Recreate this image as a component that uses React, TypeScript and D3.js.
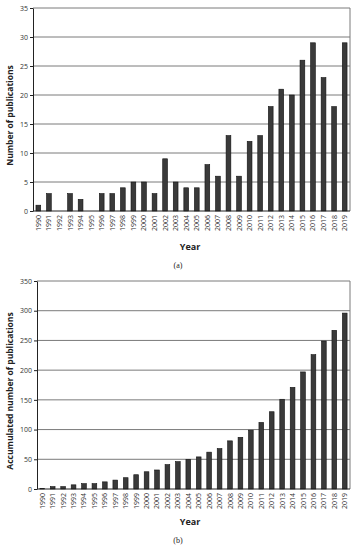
import React, { useEffect, useRef } from "react";
import * as d3 from "d3";

const years = [
  "1990", "1991", "1992", "1993", "1994", "1995", "1996", "1997", "1998", "1999",
  "2000", "2001", "2002", "2003", "2004", "2005", "2006", "2007", "2008", "2009",
  "2010", "2011", "2012", "2013", "2014", "2015", "2016", "2017", "2018", "2019",
];
const publications = [1, 3, 0, 3, 2, 0, 3, 3, 4, 5, 5, 3, 9, 5, 4, 4, 8, 6, 13, 6, 12, 13, 18, 21, 20, 26, 29, 23, 18, 29];
const accumulated = [1, 4, 4, 7, 9, 9, 12, 15, 19, 24, 29, 32, 41, 46, 50, 54, 62, 68, 81, 87, 99, 112, 130, 151, 171, 197, 226, 249, 267, 296];
const ticksA = [0, 5, 10, 15, 20, 25, 30, 35];
const ticksB = [0, 50, 100, 150, 200, 250, 300, 350];

const sans = "'Open Sans', 'Liberation Sans', Arial, sans-serif";

function drawPanel(g, opts) {
  const { left, right, top, bottom, max, ticks, values, yLabel, yLabelX, caption, yearY, capY } = opts;
  const x = d3.scaleBand().domain(years).range([left, right]).paddingInner(0.55).paddingOuter(0.28);
  const y = d3.scaleLinear().domain([0, max]).range([bottom, top]);

  // gridlines
  g.selectAll(".grid")
    .data(ticks.slice(1))
    .enter()
    .append("line")
    .attr("x1", left)
    .attr("x2", right)
    .attr("y1", (d) => y(d))
    .attr("y2", (d) => y(d))
    .attr("stroke", "#7a7a7a")
    .attr("stroke-width", 1);

  // right border
  g.append("line").attr("x1", right).attr("x2", right).attr("y1", top).attr("y2", bottom).attr("stroke", "#7a7a7a");

  g.selectAll(".bar")
    .data(values)
    .enter()
    .append("rect")
    .attr("x", (d, i) => x(years[i]))
    .attr("y", (d) => y(d))
    .attr("width", x.bandwidth())
    .attr("height", (d) => bottom - y(d))
    .attr("fill", "#3a3a3a")
    .attr("stroke", "#111")
    .attr("stroke-width", 0.6);

  const yAxis = g.append("g").attr("transform", `translate(${left},0)`)
    .call(d3.axisLeft(y).tickValues(ticks).tickSize(3).tickSizeOuter(0));
  yAxis.select(".domain").attr("stroke", "#222");
  yAxis.selectAll("line").attr("stroke", "#222");
  yAxis.selectAll("text").attr("font-family", sans).attr("font-size", 7).attr("fill", "#333").attr("x", -5);

  g.append("line").attr("x1", left).attr("x2", right).attr("y1", bottom).attr("y2", bottom).attr("stroke", "#222");

  g.selectAll(".yr")
    .data(years)
    .enter()
    .append("text")
    .attr("transform", (d) => `translate(${x(d) + x.bandwidth() / 2 + 2.5},${yearY}) rotate(-90)`)
    .attr("text-anchor", "end")
    .attr("font-family", sans)
    .attr("font-size", 7)
    .attr("fill", "#333")
    .text((d) => d);

  g.append("text")
    .attr("transform", `translate(${yLabelX},${(top + bottom) / 2 + 6}) rotate(-90)`)
    .attr("text-anchor", "middle")
    .attr("font-family", sans)
    .attr("font-weight", "bold")
    .attr("font-size", 8.5)
    .attr("fill", "#222")
    .text(yLabel);

  g.append("text")
    .attr("x", 190)
    .attr("y", capY)
    .attr("text-anchor", "middle")
    .attr("font-family", sans)
    .attr("font-weight", "bold")
    .attr("font-size", 9)
    .attr("fill", "#222")
    .text("Year");

  g.append("text")
    .attr("x", 178)
    .attr("y", capY + 18)
    .attr("text-anchor", "middle")
    .attr("font-family", "'Liberation Serif', serif")
    .attr("font-size", 8)
    .attr("fill", "#222")
    .text(caption);
}

export default function App() {
  const ref = useRef(null);
  useEffect(() => {
    const svg = d3.select(ref.current);
    svg.selectAll("*").remove();
    drawPanel(svg.append("g"), {
      left: 33, right: 350, top: 8, bottom: 211, max: 35, ticks: ticksA, values: publications,
      yLabel: "Number of publications", yLabelX: 13, caption: "(a)", yearY: 215, capY: 250,
    });
    drawPanel(svg.append("g"), {
      left: 37, right: 350, top: 281, bottom: 489, max: 350, ticks: ticksB, values: accumulated,
      yLabel: "Accumulated number of publications", yLabelX: 13, caption: "(b)", yearY: 493, capY: 525,
    });
  }, []);
  return (
    <svg ref={ref} width={356} height={550} style={{ position: "absolute", left: 0, top: 0, background: "#fff" }} />
  );
}
